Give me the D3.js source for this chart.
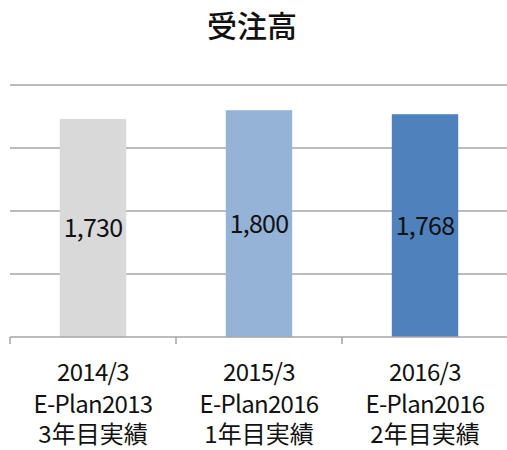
<!DOCTYPE html>
<html>
<head>
<meta charset="utf-8">
<script src="https://cdn.jsdelivr.net/npm/d3@7"></script>
<style>
  html, body { margin: 0; padding: 0; background: #fff; }
  svg { display: block; }
  text { font-family: "Noto Sans CJK JP", "Noto Sans", sans-serif; }
</style>
</head>
<body>
<svg id="chart" width="507" height="450"></svg>
<script>
// Orders received (受注高) by fiscal period
const title = "受注高";
const periods = ["2014/3", "2015/3", "2016/3"];
const plans = ["E-Plan2013", "E-Plan2016", "E-Plan2016"];
const stages = ["3年目実績", "1年目実績", "2年目実績"];
const values = [1730, 1800, 1768];
const barColors = ["#d9d9d9", "#95b3d7", "#4f81bd"];
const gridTicks = [500, 1000, 1500, 2000];

const svg = d3.select("#chart");

const x = d3.scaleBand().domain(periods).range([10, 508]).padding(0);
const y = d3.scaleLinear().domain([0, 2000]).range([337, 85]);
const barW = x.bandwidth() * 0.4;

// title
svg.append("text")
  .attr("x", 252).attr("y", 37)
  .attr("text-anchor", "middle")
  .attr("font-size", 30)
  .attr("font-weight", 500)
  .attr("fill", "#111")
  .text(title);

// horizontal gridlines
svg.append("g").selectAll("line").data(gridTicks).join("line")
  .attr("x1", x.range()[0]).attr("x2", x.range()[1])
  .attr("y1", d => y(d)).attr("y2", d => y(d))
  .attr("stroke", "#a6a6a6").attr("stroke-width", 1.5);

// bars
const rows = periods.map((p, i) => ({ p, v: values[i], c: barColors[i] }));
svg.append("g").selectAll("rect").data(rows).join("rect")
  .attr("x", d => x(d.p) + (x.bandwidth() - barW) / 2)
  .attr("width", barW)
  .attr("y", d => y(d.v))
  .attr("height", d => y(0) - y(d.v))
  .attr("fill", d => d.c);

// value labels centred in the bars
svg.append("g").selectAll("text").data(rows).join("text")
  .attr("x", d => x(d.p) + x.bandwidth() / 2)
  .attr("y", d => (y(d.v) + y(0)) / 2)
  .attr("dy", "0.36em")
  .attr("text-anchor", "middle")
  .attr("font-size", 25)
  .attr("letter-spacing", -0.8)
  .attr("fill", "#111")
  .text(d => d3.format(",")(d.v));

// category axis: baseline plus ticks at band boundaries
const axis = svg.append("g");
axis.append("line")
  .attr("x1", x.range()[0]).attr("x2", x.range()[1])
  .attr("y1", y(0)).attr("y2", y(0))
  .attr("stroke", "#a6a6a6").attr("stroke-width", 1.5);
const bounds = periods.map(p => x(p)).concat([x.range()[1]]);
axis.selectAll("line.tick").data(bounds).join("line")
  .attr("class", "tick")
  .attr("x1", d => d).attr("x2", d => d)
  .attr("y1", y(0)).attr("y2", y(0) + 7)
  .attr("stroke", "#a6a6a6").attr("stroke-width", 1.5);

// multi-line category labels
const lineY = [381, 413, 443];
const lbl = axis.selectAll("text.cat").data(periods).join("text")
  .attr("class", "cat")
  .attr("text-anchor", "middle")
  .attr("fill", "#111");
lbl.each(function(p, i) {
  const cx = x(p) + x.bandwidth() / 2;
  const t = d3.select(this);
  t.append("tspan").attr("x", cx).attr("y", lineY[0])
    .attr("font-size", 24).attr("letter-spacing", -0.7).text(periods[i]);
  t.append("tspan").attr("x", cx).attr("y", lineY[1])
    .attr("font-size", 24).attr("letter-spacing", -0.7).text(plans[i]);
  t.append("tspan").attr("x", cx).attr("y", lineY[2])
    .attr("font-size", 24).text(stages[i]);
});
</script>
</body>
</html>
